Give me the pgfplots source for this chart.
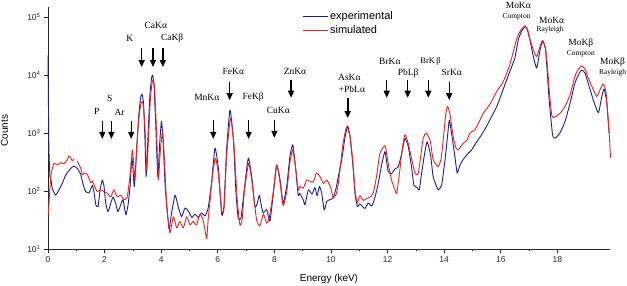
\documentclass[border=0pt]{standalone}
\usepackage{pgfplots}
\pgfplotsset{compat=1.18}
\usepackage{fontspec}
\setmainfont{Liberation Sans}
\newfontfamily\tms{Liberation Serif}
\usetikzlibrary{arrows.meta}
\definecolor{expblue}{RGB}{30,30,135}
\definecolor{simred}{RGB}{238,32,32}

\tikzset{
  lbl/.style={font=\tms\fontsize{9.5}{10}\selectfont, inner sep=0pt},
  sml/.style={font=\tms\fontsize{7.5}{8}\selectfont, inner sep=0pt},
  pk/.style={-{Triangle[width=6bp,length=7bp]}, line width=1.3bp, black},
}

\begin{document}
\begin{tikzpicture}
\path[use as bounding box] (-48bp,-37bp) rectangle (579bp,249bp);
\begin{axis}[
  scale only axis, width=562bp, height=241.7bp,
  at={(0,0)}, anchor=south west,
  ymode=log, log basis y=10,
  xmin=0, xmax=19.86, ymin=10, ymax=1.48e5,
  axis lines=left,
  axis line style={-, black!85, line width=0.8pt},
  tick align=outside,
  major tick length=4bp, minor tick length=2.5bp,
  tick style={black!85, line width=0.6pt},
  xtick={0,2,...,18}, minor x tick num=1,
  ytick={10,100,1000,10000,100000},
  yticklabels={10\textsuperscript{1},10\textsuperscript{2},10\textsuperscript{3},10\textsuperscript{4},10\textsuperscript{5}},
  /pgf/number format/assume math mode=true,
  tick label style={font=\fontsize{8.5}{10}\selectfont, text=black!85},
  xlabel={Energy (keV)}, ylabel={Counts},
  label style={font=\fontsize{10.5}{12}\selectfont},
  every axis x label/.style={at={(axis description cs:0.5,-0.124)}, anchor=center},
  every axis y label/.style={at={(axis description cs:-0.0775,0.49)}, rotate=90, anchor=center},
  clip=false,
  unbounded coords=jump,
  legend style={draw=none, fill=none, at={(axis description cs:0.452,0.99)}, anchor=north west,
    font=\fontsize{11}{12}\selectfont, row sep=0pt, inner sep=0pt},
  legend cell align=left,
  legend image code/.code={\draw[#1] (0bp,0bp) -- (25bp,0bp);},
]
% measured spectrum
\addplot[expblue, line width=0.9pt, line join=round, smooth, tension=0.3] coordinates {
(0.00,22000) (0.03,600) (0.07,170) (0.095,166) (0.15,112) (0.27,85) (0.39,105) (0.51,138)
(0.63,190) (0.80,245) (0.92,269) (1.04,245) (1.16,190) (1.25,126) (1.33,98) (1.45,93)
(1.57,126) (1.63,93) (1.69,58) (1.77,54) (1.84,105) (1.92,155) (1.98,120) (2.04,62)
(2.12,44) (2.22,62) (2.30,79) (2.39,62) (2.47,44) (2.57,58) (2.65,71) (2.75,39)
(2.83,58) (2.90,120) (2.96,380) (3.00,250) (3.05,120) (3.12,400) (3.20,1800) (3.27,4000)
(3.32,4700) (3.37,3500) (3.42,1000) (3.47,178) (3.53,800) (3.60,4500) (3.66,9000) (3.70,10000)
(3.75,6500) (3.81,1300) (3.88,178) (3.95,700) (4.01,1585) (4.07,700) (4.14,120) (4.20,55)
(4.28,22) (4.36,40) (4.49,85) (4.60,54) (4.72,36) (4.84,51) (4.96,45) (5.08,35)
(5.19,40) (5.31,35) (5.43,42) (5.55,37) (5.66,51) (5.78,138) (5.90,550) (6.02,250)
(6.14,39) (6.22,56) (6.31,500) (6.43,2500) (6.55,800) (6.64,100) (6.72,34) (6.82,34)
(6.93,100) (7.08,372) (7.21,158) (7.31,54) (7.39,60) (7.47,85) (7.54,55) (7.61,42)
(7.73,48) (7.84,30) (7.95,79) (8.08,282) (8.20,158) (8.31,62) (8.44,126) (8.55,398)
(8.65,630) (8.75,251) (8.84,85) (8.90,91) (9.02,70) (9.08,58) (9.20,105) (9.33,89)
(9.43,115) (9.51,83) (9.59,120) (9.67,93) (9.76,47) (9.85,66) (9.96,71) (10.08,76)
(10.18,112) (10.26,178) (10.38,347) (10.49,813) (10.59,1318) (10.67,890) (10.77,302) (10.85,91)
(10.93,54) (11.02,60) (11.12,54) (11.20,50) (11.32,62) (11.44,55) (11.55,76) (11.67,135)
(11.79,282) (11.91,479) (12.02,219) (12.14,200) (12.26,240) (12.38,263) (12.50,447) (12.61,813)
(12.73,589) (12.85,251) (12.93,126) (13.03,117) (13.12,105) (13.20,200) (13.32,479) (13.40,708)
(13.52,417) (13.61,178) (13.73,120) (13.79,105) (13.91,126) (14.03,347) (14.12,891) (14.18,1660)
(14.26,1000) (14.38,389) (14.46,204) (14.56,282) (14.68,355) (14.81,427) (14.97,513) (15.15,708)
(15.32,933) (15.50,1318) (15.68,1950) (15.86,2884) (16.03,4786) (16.21,8318) (16.39,14125) (16.50,19953)
(16.62,40738) (16.74,57544) (16.86,69183) (16.94,60256) (17.03,40738) (17.15,20893) (17.27,13183) (17.39,27542)
(17.48,38019) (17.58,28184) (17.65,10000) (17.71,3715) (17.83,933) (17.92,813) (18.09,1000) (18.27,1585)
(18.45,3311) (18.62,7244) (18.74,10000) (18.86,12303) (18.98,10715) (19.09,7244) (19.27,3715) (19.45,2239)
(19.57,4266) (19.65,5754) (19.74,3548) (19.83,1000)
};
\addlegendentry{experimental}
% Monte Carlo spectrum
\addplot[simred, line width=0.9pt, line join=round, smooth, tension=0.3] coordinates {
(0.01,39) (0.05,80) (0.10,180) (0.15,240) (0.21,302) (0.33,282) (0.45,309) (0.57,295)
(0.68,347) (0.74,407) (0.80,372) (0.86,331) (0.92,360) (0.96,nan) (1.02,330) (1.04,324)
(1.16,245) (1.21,190) (1.27,204) (1.39,195) (1.51,138) (1.57,150) (1.63,126) (1.74,98)
(1.86,105) (1.98,98) (2.10,91) (2.22,79) (2.33,105) (2.45,79) (2.57,85) (2.69,71)
(2.80,79) (2.90,190) (2.98,513) (3.03,300) (3.07,155) (3.13,500) (3.20,1600) (3.28,3200)
(3.33,3500) (3.38,2800) (3.44,900) (3.49,229) (3.55,800) (3.62,4000) (3.68,7500) (3.72,8300)
(3.77,5500) (3.83,1200) (3.90,155) (3.97,500) (4.05,1070) (4.12,300) (4.20,50) (4.31,19)
(4.43,36) (4.55,23) (4.66,30) (4.78,23) (4.90,36) (5.02,26) (5.13,30) (5.25,26)
(5.37,40) (5.47,33) (5.55,21) (5.61,15) (5.66,33) (5.72,63) (5.82,204) (5.92,372)
(6.02,200) (6.14,45) (6.22,50) (6.31,398) (6.45,1820) (6.57,631) (6.68,79) (6.78,26)
(6.86,32) (6.94,100) (7.09,302) (7.21,141) (7.37,32) (7.49,25) (7.61,40) (7.73,28)
(7.82,35) (7.95,89) (8.08,282) (8.20,141) (8.31,56) (8.44,100) (8.55,316) (8.65,513)
(8.75,251) (8.84,105) (8.90,120) (9.02,112) (9.14,155) (9.26,148) (9.37,141) (9.49,204)
(9.61,178) (9.73,135) (9.85,155) (9.96,126) (10.02,100) (10.08,76) (10.18,87) (10.26,135)
(10.34,295) (10.43,676) (10.55,1288) (10.67,891) (10.77,331) (10.85,100) (10.93,62) (11.02,83)
(11.14,69) (11.26,74) (11.38,79) (11.49,91) (11.61,178) (11.73,447) (11.91,603) (12.02,302)
(12.14,155) (12.26,105) (12.32,91) (12.41,182) (12.50,447) (12.61,933) (12.73,661) (12.85,355)
(12.97,204) (13.08,195) (13.17,398) (13.26,813) (13.36,1000) (13.50,759) (13.61,347) (13.73,282)
(13.79,263) (13.89,355) (13.97,794) (14.06,2188) (14.12,2884) (14.20,2188) (14.32,871) (14.42,550)
(14.50,513) (14.68,676) (14.81,759) (14.91,1000) (15.09,1148) (15.27,1698) (15.38,2188) (15.62,3162)
(15.86,5248) (16.09,7762) (16.32,15136) (16.56,41687) (16.71,60256) (16.86,70795) (16.96,58884) (17.03,41687)
(17.17,25704) (17.27,20893) (17.39,31623) (17.48,39811) (17.58,29512) (17.65,14125) (17.71,5623) (17.80,2042)
(17.88,1862) (18.09,2188) (18.27,2884) (18.45,4571) (18.62,9550) (18.74,12589) (18.86,14454) (18.98,12589)
(19.09,8913) (19.27,5623) (19.39,4266) (19.51,5623) (19.62,7079) (19.72,5012) (19.83,1000) (19.88,372)
};
\addlegendentry{simulated}

% line identifications
\node[lbl] at (axis cs:1.72,2350) {P};
\node[lbl] at (axis cs:2.18,3900) {S};
\node[lbl] at (axis cs:2.53,2290) {Ar};
\draw[pk] (axis cs:1.92,1620) -- (axis cs:1.92,795);
\draw[pk] (axis cs:2.24,1620) -- (axis cs:2.24,795);
\draw[pk] (axis cs:2.94,1620) -- (axis cs:2.94,795);

\node[lbl] at (axis cs:2.89,42700) {K};
\node[lbl] at (axis cs:3.81,70800) {CaKα};
\node[lbl] at (axis cs:4.39,42700) {CaKβ};
\draw[pk] (axis cs:3.31,29500) -- (axis cs:3.31,13800);
\draw[pk] (axis cs:3.71,29500) -- (axis cs:3.71,13800);
\draw[pk] (axis cs:4.06,29500) -- (axis cs:4.06,13800);

\node[lbl] at (axis cs:5.61,4170) {MnKα};
\draw[pk] (axis cs:5.84,1700) -- (axis cs:5.84,795);
\node[lbl] at (axis cs:6.55,11750) {FeKα};
\draw[pk] (axis cs:6.42,7600) -- (axis cs:6.42,3700);
\node[lbl] at (axis cs:7.25,4170) {FeKβ};
\draw[pk] (axis cs:7.09,1700) -- (axis cs:7.09,795);
\node[lbl] at (axis cs:8.14,2450) {CuKα};
\draw[pk] (axis cs:8.00,1700) -- (axis cs:8.00,830);
\node[lbl] at (axis cs:8.73,11750) {ZnKα};
\draw[pk] (axis cs:8.59,8300) -- (axis cs:8.59,4070);

\node[lbl] at (axis cs:10.65,9300) {AsKα};
\node[lbl] at (axis cs:10.74,5750) {+PbLα};
\draw[pk, line width=1.8bp] (axis cs:10.59,4070) -- (axis cs:10.59,1820);

\node[lbl] at (axis cs:12.08,17000) {BrKα};
\node[lbl] at (axis cs:12.73,11000) {PbLβ};
\node[sml, font=\tms\fontsize{8.5}{9}\selectfont] at (axis cs:13.52,17000) {BrK\,β};
\node[lbl] at (axis cs:14.27,11000) {SrKα};
\draw[pk] (axis cs:11.97,8300) -- (axis cs:11.97,4070);
\draw[pk] (axis cs:12.71,8300) -- (axis cs:12.71,4070);
\draw[pk] (axis cs:13.44,8300) -- (axis cs:13.44,4070);
\draw[pk] (axis cs:14.18,7600) -- (axis cs:14.18,3700);

\node[lbl] at (axis cs:16.62,158000) {MoKα};
\node[sml] at (axis cs:16.56,102000) {Compton};
\node[lbl] at (axis cs:17.80,87000) {MoKα};
\node[sml] at (axis cs:17.74,60000) {Rayleigh};
\node[lbl] at (axis cs:18.83,35500) {MoKβ};
\node[sml] at (axis cs:18.83,23400) {Compton};
\node[lbl] at (axis cs:19.95,17000) {MoKβ};
\node[sml] at (axis cs:19.95,11000) {Rayleigh};
\end{axis}
\end{tikzpicture}
\end{document}
